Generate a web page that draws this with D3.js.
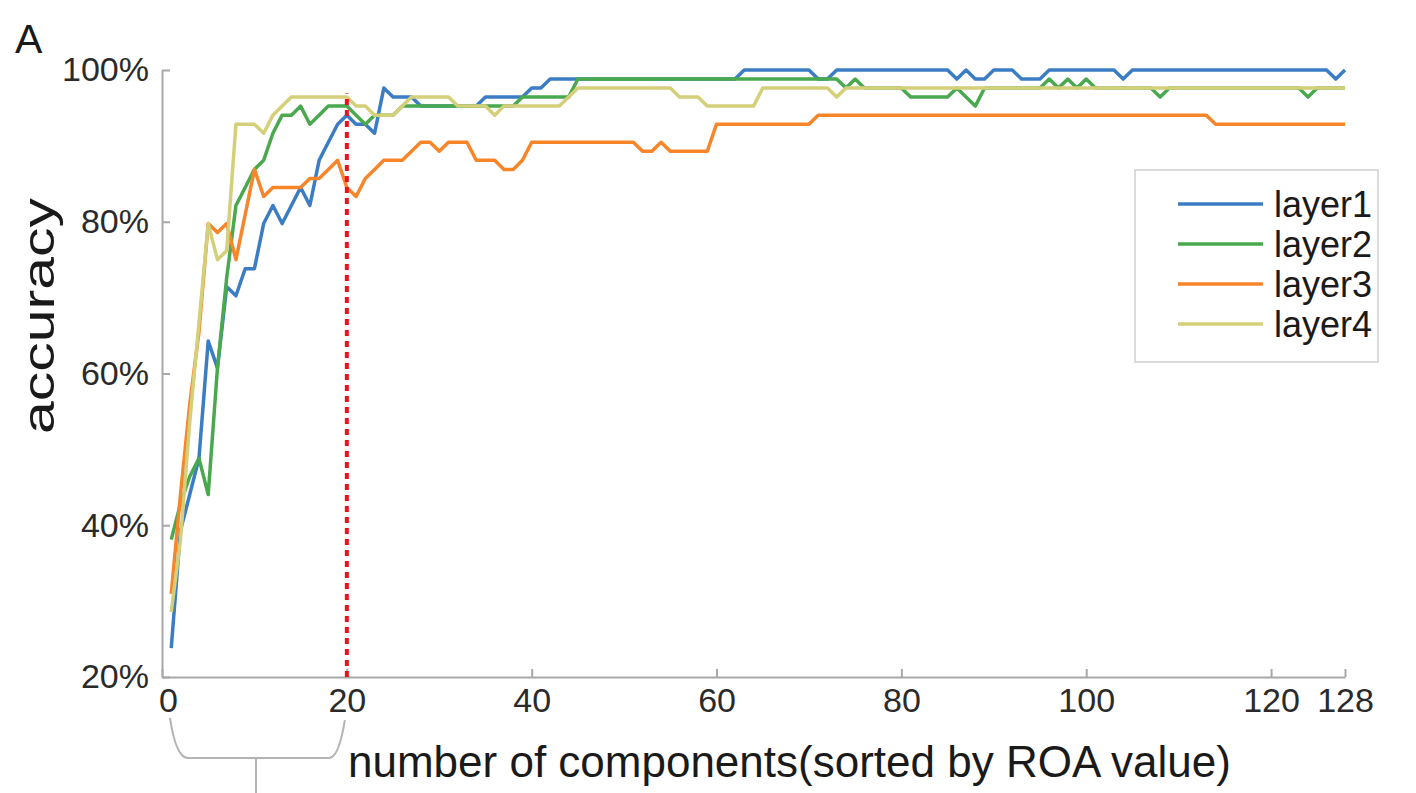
<!DOCTYPE html>
<html>
<head>
<meta charset="utf-8">
<script src="https://cdn.jsdelivr.net/npm/d3@7"></script>
<style>
  body { margin: 0; background: #fff; }
  text { font-family: "Liberation Sans", Arial, sans-serif; }
</style>
</head>
<body>
<script>

// accuracy (%) for components 1..128
var layer1 = [23.81, 39.29, 44.05, 48.81, 64.29, 60.71, 71.43, 70.24, 73.81, 73.81,
  79.76, 82.14, 79.76, 82.14, 84.52, 82.14, 88.10, 90.48, 92.86, 94.05,
  92.86, 92.86, 91.67, 97.62, 96.43, 96.43, 96.43, 95.24, 95.24, 95.24,
  95.24, 95.24, 95.24, 95.24, 96.43, 96.43, 96.43, 96.43, 96.43, 97.62,
  97.62, 98.81, 98.81, 98.81, 98.81, 98.81, 98.81, 98.81, 98.81, 98.81,
  98.81, 98.81, 98.81, 98.81, 98.81, 98.81, 98.81, 98.81, 98.81, 98.81,
  98.81, 98.81, 100, 100, 100, 100, 100, 100, 100, 100,
  98.81, 98.81, 100, 100, 100, 100, 100, 100, 100, 100,
  100, 100, 100, 100, 100, 98.81, 100, 98.81, 98.81, 100,
  100, 100, 98.81, 98.81, 98.81, 100, 100, 100, 100, 100,
  100, 100, 100, 98.81, 100, 100, 100, 100, 100, 100,
  100, 100, 100, 100, 100, 100, 100, 100, 100, 100,
  100, 100, 100, 100, 100, 100, 98.81, 100];

var layer2 = [38.10, 42.86, 46.43, 48.81, 44.05, 60.71, 72.62, 82.14, 84.52, 86.90,
  88.10, 91.67, 94.05, 94.05, 95.24, 92.86, 94.05, 95.24, 95.24, 95.24,
  94.05, 92.86, 94.05, 94.05, 94.05, 95.24, 95.24, 95.24, 95.24, 95.24,
  95.24, 95.24, 95.24, 95.24, 95.24, 95.24, 95.24, 95.24, 96.43, 96.43,
  96.43, 96.43, 96.43, 96.43, 98.81, 98.81, 98.81, 98.81, 98.81, 98.81,
  98.81, 98.81, 98.81, 98.81, 98.81, 98.81, 98.81, 98.81, 98.81, 98.81,
  98.81, 98.81, 98.81, 98.81, 98.81, 98.81, 98.81, 98.81, 98.81, 98.81,
  98.81, 98.81, 98.81, 97.62, 98.81, 97.62, 97.62, 97.62, 97.62, 97.62,
  96.43, 96.43, 96.43, 96.43, 96.43, 97.62, 96.43, 95.24, 97.62, 97.62,
  97.62, 97.62, 97.62, 97.62, 97.62, 98.81, 97.62, 98.81, 97.62, 98.81,
  97.62, 97.62, 97.62, 97.62, 97.62, 97.62, 97.62, 96.43, 97.62, 97.62,
  97.62, 97.62, 97.62, 97.62, 97.62, 97.62, 97.62, 97.62, 97.62, 97.62,
  97.62, 97.62, 97.62, 96.43, 97.62, 97.62, 97.62, 97.62];

var layer3 = [30.95, 44.05, 55.95, 65.48, 79.76, 78.57, 79.76, 75.00, 80.95, 86.90,
  83.33, 84.52, 84.52, 84.52, 84.52, 85.71, 85.71, 86.90, 88.10, 84.52,
  83.33, 85.71, 86.90, 88.10, 88.10, 88.10, 89.29, 90.48, 90.48, 89.29,
  90.48, 90.48, 90.48, 88.10, 88.10, 88.10, 86.90, 86.90, 88.10, 90.48,
  90.48, 90.48, 90.48, 90.48, 90.48, 90.48, 90.48, 90.48, 90.48, 90.48,
  90.48, 89.29, 89.29, 90.48, 89.29, 89.29, 89.29, 89.29, 89.29, 92.86,
  92.86, 92.86, 92.86, 92.86, 92.86, 92.86, 92.86, 92.86, 92.86, 92.86,
  94.05, 94.05, 94.05, 94.05, 94.05, 94.05, 94.05, 94.05, 94.05, 94.05,
  94.05, 94.05, 94.05, 94.05, 94.05, 94.05, 94.05, 94.05, 94.05, 94.05,
  94.05, 94.05, 94.05, 94.05, 94.05, 94.05, 94.05, 94.05, 94.05, 94.05,
  94.05, 94.05, 94.05, 94.05, 94.05, 94.05, 94.05, 94.05, 94.05, 94.05,
  94.05, 94.05, 94.05, 92.86, 92.86, 92.86, 92.86, 92.86, 92.86, 92.86,
  92.86, 92.86, 92.86, 92.86, 92.86, 92.86, 92.86, 92.86];

var layer4 = [28.57, 38.10, 53.57, 66.67, 79.76, 75.00, 76.19, 92.86, 92.86, 92.86,
  91.67, 94.05, 95.24, 96.43, 96.43, 96.43, 96.43, 96.43, 96.43, 96.43,
  95.24, 95.24, 94.05, 94.05, 94.05, 95.24, 96.43, 96.43, 96.43, 96.43,
  96.43, 95.24, 95.24, 95.24, 95.24, 94.05, 95.24, 95.24, 95.24, 95.24,
  95.24, 95.24, 95.24, 96.43, 97.62, 97.62, 97.62, 97.62, 97.62, 97.62,
  97.62, 97.62, 97.62, 97.62, 97.62, 96.43, 96.43, 96.43, 95.24, 95.24,
  95.24, 95.24, 95.24, 95.24, 97.62, 97.62, 97.62, 97.62, 97.62, 97.62,
  97.62, 97.62, 96.43, 97.62, 97.62, 97.62, 97.62, 97.62, 97.62, 97.62,
  97.62, 97.62, 97.62, 97.62, 97.62, 97.62, 97.62, 97.62, 97.62, 97.62,
  97.62, 97.62, 97.62, 97.62, 97.62, 97.62, 97.62, 97.62, 97.62, 97.62,
  97.62, 97.62, 97.62, 97.62, 97.62, 97.62, 97.62, 97.62, 97.62, 97.62,
  97.62, 97.62, 97.62, 97.62, 97.62, 97.62, 97.62, 97.62, 97.62, 97.62,
  97.62, 97.62, 97.62, 97.62, 97.62, 97.62, 97.62, 97.62];

var seriesNames = ["layer1", "layer2", "layer3", "layer4"];
var seriesColors = ["#3b7dc4", "#4aa84f", "#f7862b", "#d4d07a"];
var xTicks = [0, 20, 40, 60, 80, 100, 120, 128];
var yTicks = [20, 40, 60, 80, 100];
var cutoff = 20;
var cutoffTop = 96.9;

var width = 1416, height = 793;

var svg = d3.select("body").append("svg")
    .attr("width", width)
    .attr("height", height);

var x = d3.scaleLinear().domain([0, 128]).range([162, 1345]);
var y = d3.scaleLinear().domain([20, 100]).range([677, 70]);

// axes, MATLAB style: ticks point inward, no box
var xAxis = svg.append("g")
    .attr("transform", "translate(0," + y(20) + ")")
    .call(d3.axisBottom(x).tickValues(xTicks).tickSize(-8).tickSizeOuter(0).tickPadding(11));

var yAxis = svg.append("g")
    .attr("transform", "translate(" + x(0) + ",0)")
    .call(d3.axisLeft(y).tickValues(yTicks).tickSize(-8).tickSizeOuter(0).tickPadding(13)
      .tickFormat(function(d) { return d + "%"; }));

[xAxis, yAxis].forEach(function(g) {
  g.select(".domain").attr("stroke", "#a8a8a8").attr("stroke-width", 2);
  g.selectAll(".tick line").attr("stroke", "#a8a8a8").attr("stroke-width", 2);
  g.selectAll(".tick text")
    .attr("font-size", "34px")
    .attr("fill", "#2a2a2a")
    .style("font-family", "'Liberation Sans', Arial, sans-serif");
});

// nudge the first x label off the corner, as in the figure
xAxis.selectAll(".tick text").filter(function(d) { return d === 0; }).attr("dx", 6);

// lines
var line = d3.line()
    .x(function(d, i) { return x(i + 1); })
    .y(function(d) { return y(d); });

var allSeries = [layer1, layer2, layer3, layer4];

svg.selectAll("path.series")
    .data(allSeries)
    .enter().append("path")
    .attr("class", "series")
    .attr("d", line)
    .attr("fill", "none")
    .attr("stroke", function(d, i) { return seriesColors[i]; })
    .attr("stroke-width", 3.5)
    .attr("stroke-linejoin", "round");

// red cut-off line
svg.append("line")
    .attr("x1", x(cutoff)).attr("x2", x(cutoff))
    .attr("y1", y(20)).attr("y2", y(cutoffTop))
    .attr("stroke", "#e8141c")
    .attr("stroke-width", 4)
    .attr("stroke-dasharray", "6,5");

// legend
var legend = svg.append("g");
legend.append("rect")
    .attr("x", 1135).attr("y", 170)
    .attr("width", 243).attr("height", 192)
    .attr("fill", "#fff")
    .attr("stroke", "#d0d0d0")
    .attr("stroke-width", 1.5);

var items = legend.selectAll("g.item")
    .data(seriesNames)
    .enter().append("g")
    .attr("class", "item")
    .attr("transform", function(d, i) { return "translate(0," + (204 + i * 40) + ")"; });

items.append("line")
    .attr("x1", 1178).attr("x2", 1263)
    .attr("stroke", function(d, i) { return seriesColors[i]; })
    .attr("stroke-width", 3.5);

items.append("text")
    .attr("x", 1274)
    .attr("dy", "0.35em")
    .attr("font-size", "36px")
    .attr("fill", "#1a1a1a")
    .text(function(d) { return d; });

// labels
svg.append("text")
    .attr("transform", "translate(54,316) rotate(-90)")
    .attr("text-anchor", "middle")
    .attr("font-size", "45px")
    .attr("textLength", 236)
    .attr("lengthAdjust", "spacingAndGlyphs")
    .attr("fill", "#1a1a1a")
    .text("accuracy");

svg.append("text")
    .attr("x", 348).attr("y", 777)
    .attr("font-size", "44px")
    .attr("fill", "#1a1a1a")
    .text("number of components(sorted by ROA value)");

svg.append("text")
    .attr("x", 15).attr("y", 53)
    .attr("font-size", "41px")
    .attr("fill", "#1a1a1a")
    .text("A");

// bracket under the first 20 components
svg.append("path")
    .attr("d", "M" + (x(0) + 8) + ",718 Q" + (x(0) + 14) + ",758 " + (x(0) + 26) + ",758 L" +
               (x(cutoff) - 18) + ",758 Q" + (x(cutoff) - 8) + ",758 " + (x(cutoff) - 2) + ",720")
    .attr("fill", "none")
    .attr("stroke", "#b4b4b4")
    .attr("stroke-width", 2);

svg.append("line")
    .attr("x1", 256).attr("x2", 256)
    .attr("y1", 758).attr("y2", 793)
    .attr("stroke", "#b4b4b4")
    .attr("stroke-width", 2);

</script>
</body>
</html>
